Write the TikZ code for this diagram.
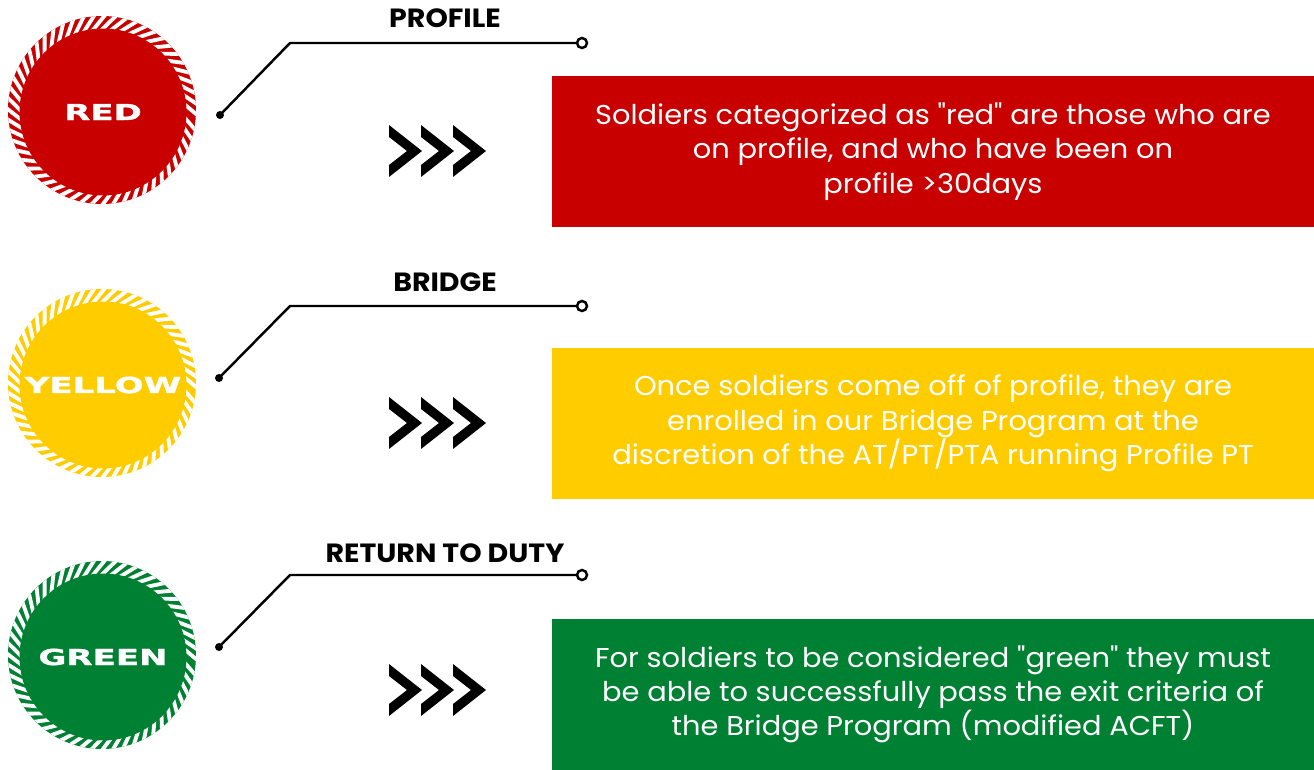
\documentclass[tikz,border=0pt]{standalone}
\usepackage{fontspec}
\setmainfont{Poppins}[Ligatures=TeXOff]
\newfontfamily\widefont[FakeStretch=1.55,FakeBold=1.5]{DejaVu Sans}
\newfontfamily\tagfont[FakeStretch=1.08]{Poppins}
\newfontfamily\boxfont[FakeStretch=1.06,Ligatures=TeXOff]{Poppins}
\usetikzlibrary{calc}
\definecolor{lvred}{HTML}{C80000}
\definecolor{lvyel}{HTML}{FFCC00}
\definecolor{lvgrn}{HTML}{008033}
% hatched rim behind a disc: centre x, centre y, colour
\newcommand{\ringat}[3]{%
  \fill[#3] (#1,#2) circle (94);
  \begin{scope}
    \clip (#1,#2) circle (94);
    \foreach \a in {0,6.5,...,354}
      \draw[white,line width=2.2pt] ($(#1,#2)+(\a:76)$) -- ($(#1,#2)+(\a+14:100)$);
  \end{scope}}
% three chevrons, left edge x, middle y
\newcommand{\chevat}[2]{%
  \foreach \dx in {0,32,64}
    \fill (#1+\dx,#2-26) -- ++(33,26) -- ++(-33,26) -- ++(0,-12) -- ++(18,-14) -- ++(-18,-14) -- cycle;}
\begin{document}
\begin{tikzpicture}[x=0.02cm,y=-0.02cm,
  disc/.style={circle,minimum size=3.34cm,inner sep=0,text=white,font=\widefont\bfseries\fontsize{12.5}{14}\selectfont},
  dot/.style={circle,fill=black,inner sep=0,minimum size=0.16cm},
  tip/.style={circle,draw,fill=white,line width=1.4pt,inner sep=0,minimum size=0.2cm},
  wire/.style={line width=1.4pt},
  tag/.style={font=\tagfont\bfseries\fontsize{15}{17}\selectfont},
  box/.style={minimum width=15.24cm,minimum height=3.04cm,inner sep=0,text=white,align=center,font=\boxfont\fontsize{15.5}{19.5}\selectfont}]
\useasboundingbox (0,0) rectangle (1314,770);
% red row
\ringat{102}{110}{lvred}
\node[disc,fill=lvred] (rc) at (103,112) {RED};
\node[dot] (rd) at (220,115) {};
\coordinate (rk) at (290,43);
\node[tip] (re) at (582,43) {};
\draw[wire] (rd.center) -- (rk) -- (re);
\node[tag] (rt) at (445,18) {PROFILE};
\chevat{389}{151}
\node[box,fill=lvred] (rb) at (933,151.5) {Soldiers categorized as "red" are those who are\\on profile, and who have been on\\profile >30days};
% yellow row
\ringat{102}{383}{lvyel}
\node[disc,fill=lvyel] (yc) at (103,385) {YELLOW};
\node[dot] (yd) at (219,378) {};
\coordinate (yk) at (290,306);
\node[tip] (ye) at (582,306) {};
\draw[wire] (yd.center) -- (yk) -- (ye);
\node[tag] (yt) at (445,282) {BRIDGE};
\chevat{389}{423}
\node[box,fill=lvyel] (yb) at (933,423.5) {Once soldiers come off of profile, they are\\enrolled in our Bridge Program at the\\discretion of the AT/PT/PTA running Profile PT};
% green row
\ringat{102}{655}{lvgrn}
\node[disc,fill=lvgrn] (gc) at (103,657) {GREEN};
\node[dot] (gd) at (219,647) {};
\coordinate (gk) at (290,575);
\node[tip] (ge) at (582,575) {};
\draw[wire] (gd.center) -- (gk) -- (ge);
\node[tag] (gt) at (445,553) {RETURN TO DUTY};
\chevat{389}{690}
\node[box,fill=lvgrn] (gb) at (933,694.5) {For soldiers to be considered "green" they must\\be able to successfully pass the exit criteria of\\the Bridge Program (modified ACFT)};
\end{tikzpicture}
\end{document}
